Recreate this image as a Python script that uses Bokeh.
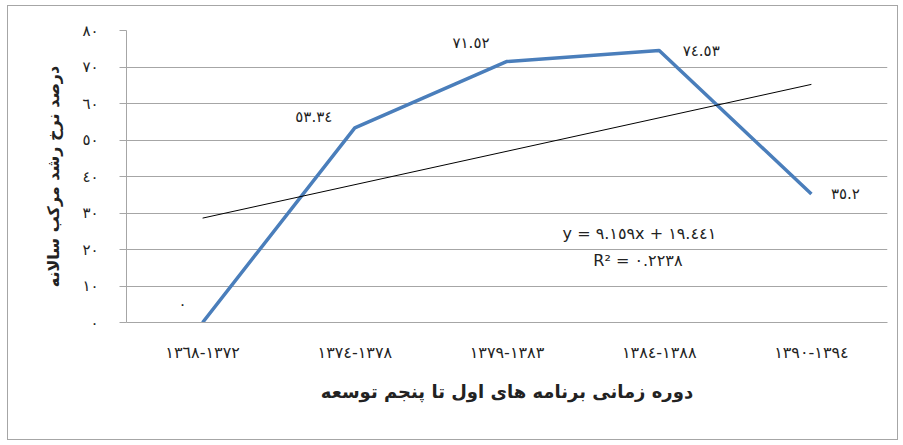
from bokeh.plotting import figure
from bokeh.models import Range1d, FixedTicker, LabelSet, ColumnDataSource, Label
from bokeh.core.properties import value
from bokeh.embed import file_html
from bokeh.resources import INLINE

# ---- data ----
period_index = [1, 2, 3, 4, 5]
period_labels = ["١٣٦٨\u200e-\u200e١٣٧٢", "١٣٧٤\u200e-\u200e١٣٧٨", "١٣٧٩\u200e-\u200e١٣٨٣",
                 "١٣٨٤\u200e-\u200e١٣٨٨", "١٣٩٠\u200e-\u200e١٣٩٤"]
growth_rate = [0, 53.34, 71.52, 74.53, 35.2]
value_labels = ["٠", "٥٣.٣٤", "٧١.٥٢", "٧٤.٥٣", "٣٥.٢"]
y_ticks = [0, 10, 20, 30, 40, 50, 60, 70, 80]
y_tick_labels = ["٠", "١٠", "٢٠", "٣٠", "٤٠", "٥٠", "٦٠", "٧٠", "٨٠"]
trend_slope = 9.159
trend_intercept = 19.441
equation_text = "y = ٩.١٥٩x + ١٩.٤٤١"
r2_text = "R² = ٠.٢٢٣٨"
x_title = "دوره زمانی برنامه های اول تا پنجم توسعه"
y_title = "درصد نرخ رشد مرکب سالانه"

# ---- style (label offsets in screen px) ----
label_dx = [-20, -41, -36, 42, 34]
label_dy = [19, 11, 18, -1, 0]
FONT = "DejaVu Sans"
GRID = "#a6a6a6"
TXT = "#222222"

p = figure(width=891, height=435, x_range=Range1d(0.5, 5.5), y_range=Range1d(0, 80),
           output_backend="svg", toolbar_location=None,
           min_border_left=118, min_border_right=12, min_border_top=24, min_border_bottom=119)
p.styles = {"border": "1px solid #a6a6a6", "margin-left": "7px", "margin-top": "5px"}
p.outline_line_color = None
p.background_fill_color = "white"
p.border_fill_color = "white"

p.xgrid.visible = False
p.ygrid.ticker = FixedTicker(ticks=y_ticks)
p.ygrid.grid_line_color = GRID
p.ygrid.grid_line_width = 1

# y axis
p.yaxis.ticker = FixedTicker(ticks=y_ticks)
p.yaxis.major_label_overrides = dict(zip(y_ticks, y_tick_labels))
p.yaxis.axis_line_color = GRID
p.yaxis.major_tick_line_color = GRID
p.yaxis.major_tick_out = 7
p.yaxis.major_tick_in = 0
p.yaxis.minor_tick_line_color = None
p.yaxis.major_label_standoff = 21
p.yaxis.major_label_text_font = FONT
p.yaxis.major_label_text_font_size = "15px"
p.yaxis.major_label_text_color = TXT
p.yaxis.axis_label = y_title
p.yaxis.axis_label_text_font = FONT
p.yaxis.axis_label_text_font_size = "16px"
p.yaxis.axis_label_text_font_style = "bold"
p.yaxis.axis_label_text_color = TXT
p.yaxis.axis_label_standoff = 16

# x axis
p.xaxis.ticker = FixedTicker(ticks=period_index)
p.xaxis.major_label_overrides = dict(zip(period_index, period_labels))
p.xaxis.axis_line_color = GRID
p.xaxis.major_tick_line_color = None
p.xaxis.minor_tick_line_color = None
p.xaxis.major_tick_out = 0
p.xaxis.major_label_standoff = 20
p.xaxis.major_label_text_font = FONT
p.xaxis.major_label_text_font_size = "16px"
p.xaxis.major_label_text_color = TXT
p.xaxis.axis_label = x_title
p.xaxis.axis_label_text_font = FONT
p.xaxis.axis_label_text_font_size = "18px"
p.xaxis.axis_label_text_font_style = "bold"
p.xaxis.axis_label_text_color = TXT
p.xaxis.axis_label_standoff = 16

# series line
p.line(period_index, growth_rate, line_color="#4a7ebb", line_width=3.5, line_join="round")

# linear trendline
tx = [period_index[0], period_index[-1]]
ty = [trend_slope * t + trend_intercept for t in tx]
p.line(tx, ty, line_color="black", line_width=1)

# data labels
src = ColumnDataSource(dict(x=period_index, y=growth_rate, t=value_labels, dx=label_dx, dy=label_dy))
p.add_layout(LabelSet(x="x", y="y", text="t", source=src, x_offset="dx", y_offset="dy",
                      text_align="center", text_baseline="middle",
                      text_font=value(FONT), text_font_size="15px", text_color=TXT))

# trendline equation
p.add_layout(Label(x=3.87, y=24.4, text=equation_text, text_align="center", text_baseline="middle",
                   text_font=FONT, text_font_size="16px", text_color=TXT))
p.add_layout(Label(x=3.86, y=17.0, text=r2_text, text_align="center", text_baseline="middle",
                   text_font=FONT, text_font_size="16px", text_color=TXT))

open("out.html", "w").write(file_html(p, INLINE))
